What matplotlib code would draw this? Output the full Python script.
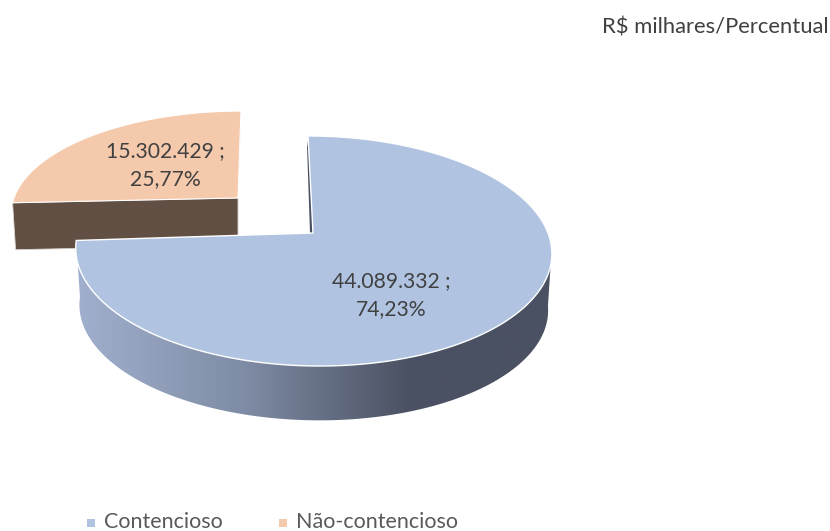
import numpy as np
import matplotlib
matplotlib.use("Agg")
import matplotlib.pyplot as plt
from matplotlib.colors import LinearSegmentedColormap
from matplotlib.patches import Polygon

categories = ["Contencioso", "Não-contencioso"]
values = [44089332, 15302429]
value_labels = ["44.089.332 ;\n74,23%", "15.302.429 ;\n25,77%"]
face_colors = ["#B0C4E2", "#F5C9AB"]
unit_label = "R$ milhares/Percentual"

plt.rcParams["font.family"] = ["Lato", "DejaVu Sans"]

fig = plt.figure(figsize=(8.3, 5.31), dpi=100)
ax = fig.add_axes([0, 0, 1, 1])
ax.axis("off")

K = 0.139


def rim(t0, t1, cx, cy, rx, ry, shear=0.05, n=400):
    # perspective circle, angle in degrees clockwise from the back of the pie
    t = np.radians(np.linspace(t0, t1, n))
    s = 1 / (1 + K * np.cos(t))
    y = cy - ry * np.cos(t) * s
    x = cx + rx * np.sin(t) * s + shear * (y - cy)
    return x, y


share = np.array(values) / np.sum(values)
end_angle = 360 * share[0]

wall_cmap = LinearSegmentedColormap.from_list(
    "wall", [(0, "#A0AFCD"), (0.35, "#7F8CA5"), (0.7, "#4A5162"), (1, "#4A5162")])

# orange slice, pulled out
c_o = (238, 198)
ox, oy = rim(end_angle, 360, c_o[0], c_o[1], 224, 99, shear=-0.034)
bx, by = rim(end_angle, 360, c_o[0], c_o[1] + 47, 221, 97, shear=-0.034)
ax.fill([ox[0], c_o[0], c_o[0], bx[0]], [oy[0], c_o[1], c_o[1] + 47, by[0]],
        color="#624F43", ec="#D8D2CC", lw=0.6, zorder=1)
ax.fill([ox[-1], c_o[0], ox[-1]], [oy[-1], c_o[1], oy[-1] + 14],
        color="#E4DCD4", lw=0, zorder=1)
ax.add_patch(Polygon(np.column_stack([np.r_[c_o[0], ox], np.r_[c_o[1], oy]]),
                     fc=face_colors[1], ec="white", lw=0.8, zorder=2))

# blue slice
c_b = (313, 235)
apex_y = 233
tx, ty = rim(0, end_angle, c_b[0], c_b[1], 235.7, 112.8)
lx, ly = rim(0, end_angle, c_b[0], c_b[1] + 57, 232, 110.5)

# inner wall seen through the gap
ax.fill([tx[0] - 1, c_b[0] - 3, c_b[0], tx[0]], [ty[0] + 11, apex_y, apex_y, ty[0] + 4],
        color="#4A5162", lw=0, zorder=3)

# outer wall, gradient runs left to right, starts where the rim turns towards the viewer
first = int(97 / end_angle * len(tx))
wall = Polygon(np.column_stack([np.r_[tx[first:], lx[first:][::-1]],
                                np.r_[ty[first:], ly[first:][::-1]]]),
               transform=ax.transData, fc="none", lw=0)
ax.add_patch(wall)
grad = ax.imshow(np.linspace(0, 1, 256)[None, :], cmap=wall_cmap, aspect="auto",
                 extent=(78, 552, 430, 230), zorder=4, interpolation="bilinear")
grad.set_clip_path(wall)

ax.add_patch(Polygon(np.column_stack([np.r_[c_b[0], tx], np.r_[apex_y, ty]]),
                     fc=face_colors[0], ec="white", lw=1.0, zorder=5))

ax.set_xlim(0, 830)
ax.set_ylim(531, 0)

# data labels
ax.text(391.5, 295, value_labels[0], ha="center", va="center", fontsize=15.2,
        color="#404040", linespacing=1.48, zorder=6)
ax.text(165, 165, value_labels[1], ha="center", va="center", fontsize=15.2,
        color="#404040", linespacing=1.48, zorder=6)

# unit note and legend
ax.text(829, 28, unit_label, ha="right", va="center", fontsize=15.8, color="#404040")
for xs, xt, col, name in zip([91, 283], [104, 296], face_colors, categories):
    ax.scatter([xs], [523], marker="s", s=33, color=col, lw=0)
    ax.text(xt, 528, name, ha="left", va="baseline", fontsize=15.5, color="#595959")

fig.savefig("out.png", dpi=100)
